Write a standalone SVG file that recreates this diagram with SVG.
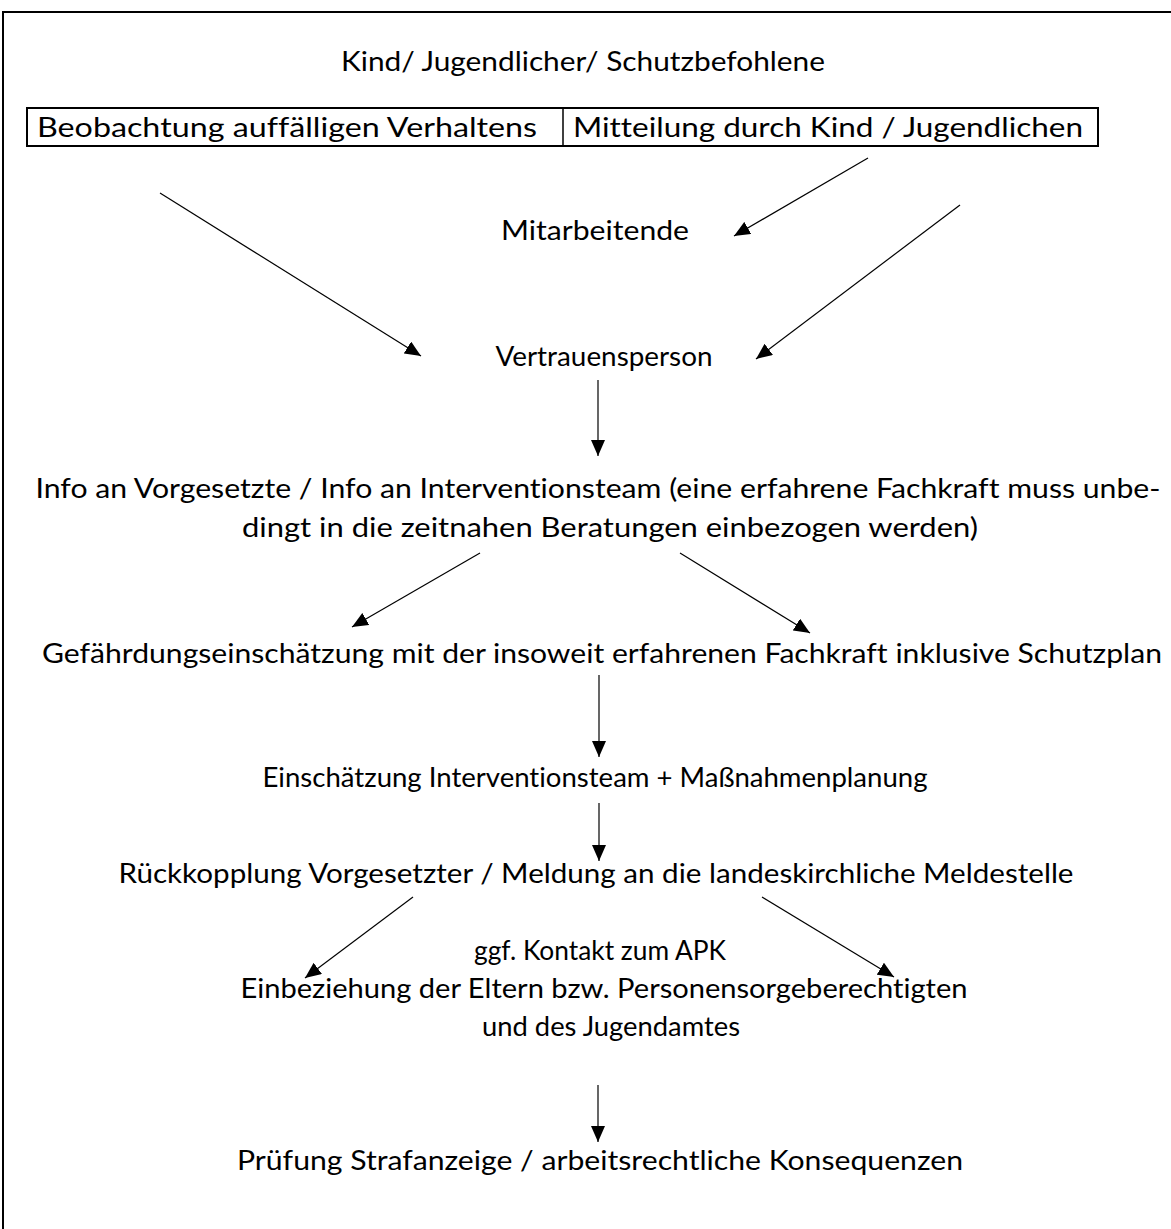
<svg xmlns="http://www.w3.org/2000/svg" width="1171" height="1229" viewBox="0 0 1171 1229">
<defs>
<style>
text{font-family:Lato,"Open Sans","Liberation Sans",sans-serif;font-size:27px;fill:#000;font-variant-ligatures:none}
.c{text-anchor:middle}
.ln{stroke:#000;stroke-width:1.2;fill:none;marker-end:url(#ah)}
</style>
<marker id="ah" markerUnits="userSpaceOnUse" markerWidth="16" markerHeight="14" viewBox="0 0 16 14" refX="16" refY="7" orient="auto">
<path d="M0,0 L16,7 L0,14 Z" fill="#000"/>
</marker>
</defs>
<rect width="1171" height="1229" fill="#fff"/>
<path d="M3,1229 V12 H1171" fill="none" stroke="#000" stroke-width="2"/>
<g id="n-title"><text class="c" x="583" y="71" textLength="484" lengthAdjust="spacingAndGlyphs">Kind/ Jugendlicher/ Schutzbefohlene</text></g>
<g id="n-box">
<rect x="27" y="108" width="1071" height="38" fill="none" stroke="#000" stroke-width="2"/>
<line x1="563" y1="108" x2="563" y2="146" stroke="#000" stroke-width="1.5"/>
<text x="37" y="137" textLength="500" lengthAdjust="spacingAndGlyphs">Beobachtung auffälligen Verhaltens</text>
<text x="573" y="137" textLength="510" lengthAdjust="spacingAndGlyphs">Mitteilung durch Kind / Jugendlichen</text>
</g>
<g id="n-mitarbeitende"><text class="c" x="595" y="240" textLength="188" lengthAdjust="spacingAndGlyphs">Mitarbeitende</text></g>
<g id="n-vertrauensperson"><text class="c" x="604" y="366" textLength="217" lengthAdjust="spacingAndGlyphs">Vertrauensperson</text></g>
<g id="n-info">
<text class="c" x="598" y="498" textLength="1125" lengthAdjust="spacingAndGlyphs">Info an Vorgesetzte / Info an Interventionsteam (eine erfahrene Fachkraft muss unbe-</text>
<text class="c" x="610" y="537" textLength="736" lengthAdjust="spacingAndGlyphs">dingt in die zeitnahen Beratungen einbezogen werden)</text>
</g>
<g id="n-gefaehrdung"><text class="c" x="602" y="663" textLength="1120" lengthAdjust="spacingAndGlyphs">Gefährdungseinschätzung mit der insoweit erfahrenen Fachkraft inklusive Schutzplan</text></g>
<g id="n-einschaetzung"><text class="c" x="595" y="787" textLength="665" lengthAdjust="spacingAndGlyphs">Einschätzung Interventionsteam + Maßnahmenplanung</text></g>
<g id="n-rueckkopplung"><text class="c" x="596" y="883" textLength="955" lengthAdjust="spacingAndGlyphs">Rückkopplung Vorgesetzter / Meldung an die landeskirchliche Meldestelle</text></g>
<g id="n-einbeziehung">
<text class="c" x="600" y="960" textLength="252" lengthAdjust="spacingAndGlyphs">ggf. Kontakt zum APK</text>
<text class="c" x="604" y="998" textLength="727" lengthAdjust="spacingAndGlyphs">Einbeziehung der Eltern bzw. Personensorgeberechtigten</text>
<text class="c" x="611" y="1036" textLength="258" lengthAdjust="spacingAndGlyphs">und des Jugendamtes</text>
</g>
<g id="n-pruefung"><text class="c" x="600" y="1170" textLength="726" lengthAdjust="spacingAndGlyphs">Prüfung Strafanzeige / arbeitsrechtliche Konsequenzen</text></g>
<g id="connectors">
<line class="ln" x1="160" y1="193" x2="421" y2="356"/>
<line class="ln" x1="868" y1="158" x2="734" y2="236"/>
<line class="ln" x1="960" y1="205" x2="756" y2="359"/>
<line class="ln" x1="598" y1="380" x2="598" y2="456"/>
<line class="ln" x1="480" y1="553" x2="352" y2="627"/>
<line class="ln" x1="680" y1="553" x2="810" y2="633"/>
<line class="ln" x1="599" y1="675" x2="599" y2="757"/>
<line class="ln" x1="599" y1="803" x2="599" y2="861"/>
<line class="ln" x1="413" y1="897" x2="305" y2="978"/>
<line class="ln" x1="762" y1="897" x2="894" y2="977"/>
<line class="ln" x1="598" y1="1085" x2="598" y2="1142"/>
</g>
</svg>
